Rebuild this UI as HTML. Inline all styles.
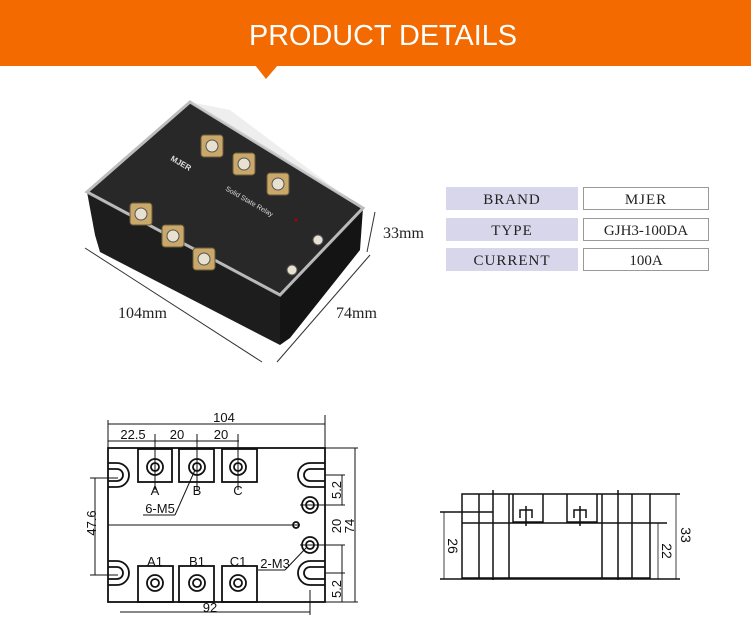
<!DOCTYPE html>
<html><head><meta charset="utf-8"><style>
html,body{margin:0;padding:0;background:#fff;width:751px;height:624px;overflow:hidden}
</style></head><body>
<svg width="751" height="624" viewBox="0 0 751 624" xmlns="http://www.w3.org/2000/svg" font-family="Liberation Sans, sans-serif">
<rect x="0" y="0" width="751" height="66" fill="#f26a00"/>
<polygon points="255,65 278,65 266,79" fill="#f26a00"/>
<text x="383" y="45" fill="#fff" font-size="29" text-anchor="middle" textLength="268" lengthAdjust="spacingAndGlyphs">PRODUCT  DETAILS</text>

<!-- photo -->
<g>
<polygon points="87,192 280,295 280,345 100,252 95,235" fill="#1d1d1d"/>
<polygon points="280,295 363,208 360,250 290,338 280,345" fill="#141414"/>
<polygon points="190,102 363,208 280,295 87,192" fill="#222" stroke="#bbb" stroke-width="3" opacity="0.97"/>
<polygon points="190,102 230,110 350,200 363,208" fill="#ddd" opacity="0.5"/>
<g fill="#c9a86a" stroke="#6a5a3a" stroke-width="1">
<rect x="201" y="135" width="22" height="22" rx="3"/><rect x="233" y="153" width="22" height="22" rx="3"/><rect x="267" y="173" width="22" height="22" rx="3"/>
<rect x="130" y="203" width="22" height="22" rx="3"/><rect x="162" y="225" width="22" height="22" rx="3"/><rect x="193" y="248" width="22" height="22" rx="3"/>
</g>
<g fill="#e8e0d0" stroke="#555">
<circle cx="212" cy="146" r="6"/><circle cx="244" cy="164" r="6"/><circle cx="278" cy="184" r="6"/>
<circle cx="141" cy="214" r="6"/><circle cx="173" cy="236" r="6"/><circle cx="204" cy="259" r="6"/>
<circle cx="318" cy="240" r="5"/><circle cx="292" cy="270" r="5"/>
</g>
<text x="225" y="190" fill="#ddd" font-size="7" transform="rotate(30 225 190)">Solid State Relay</text>
<text x="170" y="160" fill="#ddd" font-size="8" font-weight="bold" transform="rotate(30 170 160)">MJER</text>
<circle cx="296" cy="220" r="1.5" fill="#a00"/>
</g>
<g stroke="#333" stroke-width="1" fill="none">
<line x1="85" y1="248" x2="262" y2="362"/><line x1="277" y1="362" x2="370" y2="255"/><line x1="375" y1="212" x2="367" y2="252"/>
</g>
<g font-family="Liberation Serif, serif" font-size="16" fill="#222">
<text x="118" y="318">104mm</text><text x="336" y="318">74mm</text><text x="383" y="238">33mm</text>
</g>

<!-- table -->
<g font-family="Liberation Serif, serif" font-size="15" fill="#222" text-anchor="middle">
<rect x="446" y="187" width="132" height="23" fill="#d8d6ea"/><rect x="583.5" y="187.5" width="125" height="22" fill="#fff" stroke="#999"/>
<rect x="446" y="218" width="132" height="23" fill="#d8d6ea"/><rect x="583.5" y="218.5" width="125" height="22" fill="#fff" stroke="#999"/>
<rect x="446" y="248" width="132" height="23" fill="#d8d6ea"/><rect x="583.5" y="248.5" width="125" height="22" fill="#fff" stroke="#999"/>
<text x="512" y="204" letter-spacing="1">BRAND</text><text x="646" y="204" letter-spacing="1">MJER</text>
<text x="512" y="235" letter-spacing="1">TYPE</text><text x="646" y="235">GJH3-100DA</text>
<text x="512" y="265" letter-spacing="1">CURRENT</text><text x="646" y="265">100A</text>
</g>

<!-- top-view drawing -->
<g stroke="#111" stroke-width="1.8" fill="none">
<rect x="108" y="448" width="217" height="154"/>
<rect x="138" y="449" width="34" height="33"/><rect x="179" y="449" width="35" height="33"/><rect x="222" y="449" width="35" height="33"/>
<rect x="138" y="566" width="35" height="36"/><rect x="179" y="566" width="35" height="36"/><rect x="222" y="566" width="35" height="36"/>
<circle cx="155" cy="467" r="8"/><circle cx="155" cy="467" r="4"/>
<circle cx="197" cy="467" r="8"/><circle cx="197" cy="467" r="4"/>
<circle cx="238" cy="467" r="8"/><circle cx="238" cy="467" r="4"/>
<circle cx="155" cy="583" r="8"/><circle cx="155" cy="583" r="4"/>
<circle cx="197" cy="583" r="8"/><circle cx="197" cy="583" r="4"/>
<circle cx="238" cy="583" r="8"/><circle cx="238" cy="583" r="4"/>
<circle cx="310" cy="505" r="8"/><circle cx="310" cy="505" r="4"/>
<circle cx="310" cy="545" r="8"/><circle cx="310" cy="545" r="4"/>
<path d="M108,469 H117 A6,6 0 0 1 117,481 H108"/><path d="M108,463 H117 A12,12 0 0 1 117,487 H108"/>
<path d="M108,567 H117 A6,6 0 0 1 117,579 H108"/><path d="M108,561 H117 A12,12 0 0 1 117,585 H108"/>
<path d="M325,469 H310 A6,6 0 0 0 310,481 H325"/><path d="M325,463 H310 A12,12 0 0 0 310,487 H325"/>
<path d="M325,567 H310 A6,6 0 0 0 310,579 H325"/><path d="M325,561 H310 A12,12 0 0 0 310,585 H325"/>
<circle cx="296" cy="525" r="3"/>
</g>
<g stroke="#111" stroke-width="1" fill="none">
<line x1="108" y1="420" x2="108" y2="448"/><line x1="325" y1="415" x2="325" y2="448"/>
<line x1="108" y1="424" x2="325" y2="424"/>
<line x1="108" y1="441" x2="239" y2="441"/>
<line x1="155" y1="434" x2="155" y2="490"/><line x1="197" y1="434" x2="197" y2="490"/><line x1="238" y1="434" x2="238" y2="490"/>
<line x1="95" y1="478" x2="95" y2="575"/><line x1="90" y1="478" x2="118" y2="478"/><line x1="90" y1="575" x2="118" y2="575"/>
<line x1="108" y1="525" x2="300" y2="525"/>
<line x1="325" y1="448" x2="358" y2="448"/><line x1="325" y1="602" x2="358" y2="602"/><line x1="355" y1="448" x2="355" y2="602"/>
<line x1="342" y1="475" x2="342" y2="505"/><line x1="342" y1="545" x2="342" y2="602"/>
<line x1="300" y1="505" x2="345" y2="505"/><line x1="300" y1="545" x2="345" y2="545"/><line x1="325" y1="475" x2="345" y2="475"/><line x1="325" y1="573" x2="345" y2="573"/>
<line x1="120" y1="612" x2="310" y2="612"/><line x1="310" y1="590" x2="310" y2="615"/>
<line x1="143" y1="515" x2="175" y2="515"/><line x1="175" y1="515" x2="195" y2="470"/>
<line x1="258" y1="570" x2="285" y2="570"/><line x1="285" y1="570" x2="306" y2="548"/>
</g>
<g font-size="13" fill="#111" text-anchor="middle">
<text x="224" y="422">104</text><text x="133" y="439">22.5</text><text x="177" y="439">20</text><text x="221" y="439">20</text>
<text x="155" y="495">A</text><text x="197" y="495">B</text><text x="238" y="495">C</text>
<text x="155" y="566">A1</text><text x="197" y="566">B1</text><text x="238" y="566">C1</text>
<text x="160" y="513">6-M5</text><text x="275" y="568">2-M3</text>
<text x="210" y="612">92</text>
<text transform="translate(96,523) rotate(-90)">47.6</text>
<text transform="translate(341,490) rotate(-90)">5.2</text>
<text transform="translate(341,526) rotate(-90)">20</text>
<text transform="translate(354,526) rotate(-90)">74</text>
<text transform="translate(341,589) rotate(-90)">5.2</text>
</g>

<!-- side view -->
<g stroke="#111" stroke-width="1.5" fill="none">
<rect x="462" y="494" width="188" height="84"/>
<line x1="650" y1="494" x2="680" y2="494"/><line x1="440" y1="512" x2="493" y2="512"/>
<line x1="462" y1="523" x2="667" y2="523"/><line x1="440" y1="579" x2="680" y2="579"/>
<line x1="479" y1="494" x2="479" y2="578"/><line x1="493" y1="490" x2="493" y2="580"/><line x1="509" y1="494" x2="509" y2="578"/>
<line x1="602" y1="494" x2="602" y2="578"/><line x1="618" y1="490" x2="618" y2="580"/><line x1="632" y1="494" x2="632" y2="578"/>
<path d="M513,494 V522 H543 V494"/><path d="M567,494 V522 H597 V494"/>
<path d="M520,518 V510 H532 V518 M526,506 V526"/><path d="M574,518 V510 H586 V518 M580,506 V526"/>
</g>
<g stroke="#111" stroke-width="0.8"><line x1="444" y1="512" x2="444" y2="579"/><line x1="676" y1="494" x2="676" y2="579"/><line x1="658" y1="523" x2="658" y2="579"/></g>
<g font-size="14" fill="#111" text-anchor="middle">
<text transform="translate(448,546) rotate(90)">26</text>
<text transform="translate(681,535) rotate(90)">33</text>
<text transform="translate(662,551) rotate(90)">22</text>
</g>
</svg>
</body></html>
